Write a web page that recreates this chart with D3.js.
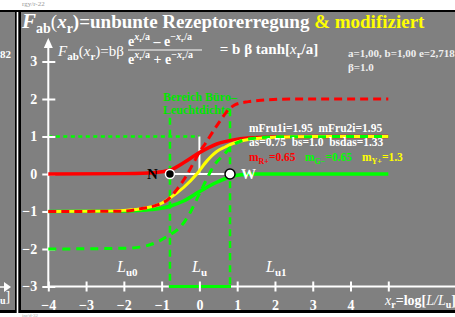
<!DOCTYPE html>
<meta charset="utf-8">
<script src="https://cdn.jsdelivr.net/npm/d3@7"></script>
<style>
  body { margin: 0; background: #fff; }
  svg text { white-space: pre; }
</style>
<div id="chart"></div>
<script>
    // values
    const xTicks = [-4, -3, -2, -1, 0, 1, 2, 3, 4, 5];
    const xTickLabels = ["−4", "−3", "−2", "−1", "0", "1", "2", "3", "4", ""];
    const yTicks = [-3, -2, -1, 0, 1, 2, 3];
    const yTickLabels = ["−3", "−2", "−1", "0", "1", "2", "3"];

    const redSolid = [[-4, 0], [-2, 0.01], [-1.5, 0.02], [-1, 0.06], [-0.78, 0.1], [-0.42, 0.3], [0, 0.57],
        [0.46, 0.8], [0.9, 0.91], [1.3, 0.96], [2, 0.99], [3, 1], [5, 1]];
    const greenSolid = [[-4, -1], [-2, -0.99], [-1.5, -0.97], [-1.3, -0.95], [-0.78, -0.86], [-0.42, -0.72],
        [0, -0.47], [0.46, -0.22], [0.81, -0.08], [1.1, -0.02], [1.5, 0], [2, 0], [5, 0]];
    const yellowSolid = [[-4, -1], [-2.5, -0.99], [-2, -0.97], [-1.5, -0.92], [-1, -0.78], [-0.78, -0.64],
        [-0.42, -0.36], [-0.07, 0], [0.2, 0.35], [0.46, 0.6], [0.68, 0.72], [0.9, 0.82], [1.3, 0.92],
        [2, 0.98], [3, 1], [5, 1]];
    const redDashed = [[-4, -1], [-2, -0.99], [-1.58, -0.93], [-1.13, -0.83], [-0.82, -0.67], [-0.6, -0.42],
        [-0.33, -0.02], [-0.1, 0.4], [0, 0.58], [0.15, 0.8], [0.37, 1.15], [0.55, 1.42], [0.7, 1.63],
        [0.95, 1.85], [1.3, 1.93], [1.56, 1.96], [2.45, 2], [5, 2]];
    const greenDashed = [[-4, -2], [-2, -1.98], [-1.58, -1.95], [-1.13, -1.82], [-0.83, -1.65], [-0.51, -1.42],
        [-0.29, -1.11], [0, -0.53], [0.42, 0.27], [0.68, 0.55], [0.86, 0.75], [1.1, 0.88], [1.5, 0.96],
        [2, 0.99], [5, 1]];

    const xN = -0.78, xW = 0.81;

    const red = "#ff0000", green = "#00ff00", yellow = "#ffff00", white = "#ffffff";
    const serif = "Liberation Serif, Times New Roman, serif";

    const svg = d3.select("#chart").append("svg")
        .attr("width", 455)
        .attr("height", 317);

    // frame: previous panel clipped at left, main panel
    svg.append("rect").attr("x", 0).attr("y", 10).attr("width", 455).attr("height", 303).attr("fill", "#000");
    svg.append("rect").attr("x", 0).attr("y", 12).attr("width", 15).attr("height", 298).attr("fill", "#808080");
    svg.append("rect").attr("x", 16.7).attr("y", 12).attr("width", 1.6).attr("height", 305).attr("fill", "#fff");
    svg.append("rect").attr("x", 21).attr("y", 12).attr("width", 434).attr("height", 298).attr("fill", "#808080");

    svg.append("text").attr("x", 22).attr("y", 6).attr("font-family", serif).attr("font-size", 7)
        .attr("fill", "#999").text("rgy/r-22");
    svg.append("text").attr("x", 22).attr("y", 316.5).attr("font-family", serif).attr("font-size", 5)
        .attr("fill", "#aaa").text("inr/d-32");

    function rich(x, y, size, fill, parts) {
        const t = svg.append("text")
            .attr("x", x).attr("y", y)
            .attr("font-family", serif)
            .attr("font-weight", "bold")
            .attr("font-size", size)
            .attr("fill", fill);
        parts.forEach(p => {
            const s = t.append("tspan").attr("y", y + (p.dy || 0)).text(p.t);
            if (p.size) s.attr("font-size", p.size);
            if (p.it) s.attr("font-style", "italic");
            if (p.fill) s.attr("fill", p.fill);
            if (p.w) s.attr("font-weight", p.w);
        });
        return t;
    }

    // left clipped panel remnants
    rich(0, 58, 11, white, [{t: "82"}]);
    svg.append("line").attr("x1", 0).attr("x2", 7).attr("y1", 287).attr("y2", 287)
        .attr("stroke", white).attr("stroke-width", 1.5);
    svg.append("path").attr("d", "M4,282 L11,287 L4,292 Z").attr("fill", white);
    rich(0, 304, 10, white, [{t: "u", dy: 0}, {t: "]", dy: -3, size: 14, w: "normal"}]);

    const x = d3.scaleLinear().domain([-4, 5]).range([48.3, 388.3]);
    const y = d3.scaleLinear().domain([-3, 3]).range([286.5, 61.5]);

    // title and formula
    rich(22, 28, 19, white, [
        {t: "F", it: true, size: 21}, {t: "ab", size: 14, dy: 5}, {t: "(", w: "normal"}, {t: "x", it: true},
        {t: "r", size: 14, dy: 5}, {t: ")=unbunte Rezeptorerregung "},
        {t: "& modifiziert", fill: yellow}
    ]);
    rich(58, 56, 15, white, [
        {t: "F", it: true, w: "normal"}, {t: "ab", size: 11, dy: 4}, {t: "(", w: "normal"}, {t: "x", it: true, w: "normal"},
        {t: "r", size: 11, dy: 4}, {t: ")=bβ", w: "normal"}
    ]);
    rich(128, 46, 14, white, [
        {t: "e"}, {t: "x", it: true, size: 10, dy: -6}, {t: "r", size: 7, dy: -4}, {t: "/a", size: 10, dy: -6},
        {t: " – e"}, {t: "−", size: 10, dy: -6}, {t: "x", it: true, size: 10, dy: -6}, {t: "r", size: 7, dy: -4},
        {t: "/a", size: 10, dy: -6}
    ]);
    svg.append("line").attr("x1", 128).attr("x2", 202).attr("y1", 50).attr("y2", 50)
        .attr("stroke", white).attr("stroke-width", 1);
    rich(128, 64, 14, white, [
        {t: "e"}, {t: "x", it: true, size: 10, dy: -6}, {t: "r", size: 7, dy: -4}, {t: "/a", size: 10, dy: -6},
        {t: " + e"}, {t: "−", size: 10, dy: -6}, {t: "x", it: true, size: 10, dy: -6}, {t: "r", size: 7, dy: -4},
        {t: "/a", size: 10, dy: -6}
    ]);
    rich(216, 54, 15, white, [
        {t: " = b β tanh["}, {t: "x", it: true, w: "normal"}, {t: "r", size: 11, dy: 4}, {t: "/a]"}
    ]);
    rich(348, 57, 11, "#eeeeee", [{t: "a=1,00, b=1,00 e=2,718"}]);
    rich(348, 71, 11, "#eeeeee", [{t: "β=1.0"}]);

    // x axis
    svg.append("line").attr("x1", x(-4)).attr("x2", 455).attr("y1", y(-3)).attr("y2", y(-3))
        .attr("stroke", white).attr("stroke-width", 2);

    // green box of office luminance
    const g = svg.append("g");
    g.append("line").attr("x1", x(-4)).attr("x2", x(0)).attr("y1", y(1)).attr("y2", y(1))
        .attr("stroke", green).attr("stroke-width", 2.5).attr("stroke-dasharray", "4,3.5");
    g.append("line").attr("x1", x(xN)).attr("x2", x(xN)).attr("y1", y(1.5)).attr("y2", y(-3))
        .attr("stroke", green).attr("stroke-width", 2.5).attr("stroke-dasharray", "7,5");
    g.append("line").attr("x1", x(xW)).attr("x2", x(xW)).attr("y1", y(1.73)).attr("y2", y(-3))
        .attr("stroke", green).attr("stroke-width", 2.5).attr("stroke-dasharray", "7,5");
    g.append("line").attr("x1", x(xN) - 1).attr("x2", x(xW) + 1).attr("y1", y(-3)).attr("y2", y(-3))
        .attr("stroke", green).attr("stroke-width", 3);

    rich(163, 101, 12, "#00e600", [{t: "Bereich Büro–"}]);
    rich(163, 114, 12, "#00e600", [{t: "Leuchtdichte"}]);

    // axes ticks and labels
    const xAxis = d3.axisBottom(x).tickValues(xTicks)
        .tickFormat((d, i) => xTickLabels[i]).tickSize(5).tickPadding(9);
    const xa = svg.append("g").attr("transform", `translate(0,${y(-3)})`).call(xAxis);
    xa.select(".domain").remove();
    xa.selectAll(".tick line").attr("y1", -5).attr("stroke", white).attr("stroke-width", 2);
    xa.selectAll(".tick text").attr("fill", white).attr("font-family", serif)
        .attr("font-weight", "bold").attr("font-size", 14);

    const yAxis = d3.axisLeft(y).tickValues(yTicks)
        .tickFormat((d, i) => yTickLabels[i]).tickSize(5).tickPadding(6);
    const ya = svg.append("g").attr("transform", `translate(${x(-4)},0)`).call(yAxis);
    ya.select(".domain").remove();
    ya.selectAll(".tick line").attr("x2", 7).attr("x1", -6).attr("stroke", white).attr("stroke-width", 2);
    ya.selectAll(".tick text").attr("fill", white).attr("font-family", serif)
        .attr("font-weight", "bold").attr("font-size", 14);

    svg.append("line").attr("x1", x(-4)).attr("x2", x(-4)).attr("y1", y(-3)).attr("y2", 44)
        .attr("stroke", white).attr("stroke-width", 2);
    svg.append("path").attr("d", `M${x(-4) - 4.5},48 L${x(-4)},38 L${x(-4) + 4.5},48 Z`).attr("fill", white);

    rich(385, 305, 14, white, [
        {t: "x", it: true, w: "normal"}, {t: "r", size: 10, dy: 3}, {t: "=log["}, {t: "L/L", it: true, w: "normal"},
        {t: "u", size: 10, dy: 3}, {t: "]"}
    ]);

    rich(117, 272, 16, white, [{t: "L", it: true, w: "normal"}, {t: "u0", size: 11, dy: 4}]);
    rich(192, 272, 16, white, [{t: "L", it: true, w: "normal"}, {t: "u", size: 11, dy: 4}]);
    rich(266, 272, 16, white, [{t: "L", it: true, w: "normal"}, {t: "u1", size: 11, dy: 4}]);

    // white marks at N–W
    svg.append("line").attr("x1", x(xN)).attr("x2", x(xW)).attr("y1", y(0)).attr("y2", y(0))
        .attr("stroke", white).attr("stroke-width", 2);
    svg.append("line").attr("x1", x(0)).attr("x2", x(0)).attr("y1", y(0)).attr("y2", y(1))
        .attr("stroke", white).attr("stroke-width", 2);

    // curves
    const line = d3.line().x(d => x(d[0])).y(d => y(d[1])).curve(d3.curveMonotoneX);
    const curves = [
        {data: redSolid, color: red, w: 3.5, dash: null},
        {data: greenSolid, color: green, w: 3.5, dash: null},
        {data: yellowSolid, color: yellow, w: 3, dash: null},
        {data: redDashed, color: red, w: 3, dash: "8,5"},
        {data: greenDashed, color: green, w: 3, dash: "8,6"}
    ];
    svg.selectAll("path.curve")
        .data(curves)
        .enter()
        .append("path")
        .attr("class", "curve")
        .attr("d", d => line(d.data))
        .attr("fill", "none")
        .attr("stroke", d => d.color)
        .attr("stroke-width", d => d.w)
        .attr("stroke-dasharray", d => d.dash);

    // points N and W
    svg.append("circle").attr("cx", x(xN)).attr("cy", y(0)).attr("r", 4.5)
        .attr("fill", "#000").attr("stroke", white).attr("stroke-width", 1.5);
    svg.append("circle").attr("cx", x(xW)).attr("cy", y(0)).attr("r", 5)
        .attr("fill", white).attr("stroke", "#000").attr("stroke-width", 1.5);
    rich(147, 179, 15, "#000", [{t: "N"}]);
    rich(241, 179, 15, white, [{t: "W"}]);

    // parameter block
    rich(249, 132, 11.5, white, [{t: "mFru1i=1.95  mFru2i=1.95"}]);
    rich(249, 146, 11.5, white, [{t: "as=0.75  bs=1.0  bsdas=1.33"}]);
    rich(249, 161, 11.5, red, [{t: "m"}, {t: "R+", size: 8, dy: 3}, {t: "=0.65"}]);
    rich(305, 161, 11.5, green, [{t: "m"}, {t: "G−", size: 8, dy: 3}, {t: "=0.65"}]);
    rich(362, 161, 11.5, yellow, [{t: "m"}, {t: "Y+", size: 8, dy: 3}, {t: "=1.3"}]);
</script>
